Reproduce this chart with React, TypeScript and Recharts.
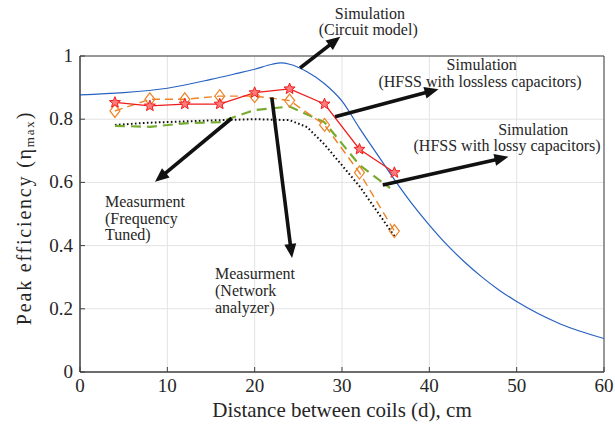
import React from 'react';
import {
  ComposedChart,
  Line,
  XAxis,
  YAxis,
  CartesianGrid,
  ReferenceLine,
  ReferenceDot,
  ReferenceArea,
} from 'recharts';

// ---------- data ----------
const xTicks = [0, 10, 20, 30, 40, 50, 60];
const yTicks = [0, 0.2, 0.4, 0.6, 0.8, 1];

// Simulation (Circuit model) - blue solid
const circuitX = [0, 5, 10, 15, 18, 20, 22, 23, 24, 26, 28, 30, 32, 34, 36, 38, 40, 42, 44, 46, 48, 50, 55, 60];
const circuitY = [0.877, 0.884, 0.898, 0.926, 0.945, 0.958, 0.974, 0.978, 0.974, 0.95, 0.912, 0.857, 0.772, 0.69, 0.609, 0.533, 0.465, 0.403, 0.349, 0.301, 0.259, 0.223, 0.152, 0.106];

// Simulation (HFSS with lossless capacitors) - red stars
const losslessX = [4, 8, 12, 16, 20, 24, 28, 32, 36];
const losslessY = [0.853, 0.842, 0.848, 0.848, 0.884, 0.896, 0.848, 0.705, 0.631];

// Measurment (Network analyzer) - orange diamonds
const networkX = [4, 8, 12, 16, 20, 24, 28, 32, 36];
const networkY = [0.826, 0.863, 0.863, 0.873, 0.873, 0.859, 0.782, 0.631, 0.446];

// Simulation (HFSS with lossy capacitors) - green dashed
const lossyX = [4, 8, 12, 16, 20, 24, 28, 32, 35.5];
const lossyY = [0.779, 0.776, 0.787, 0.791, 0.829, 0.84, 0.79, 0.655, 0.582];

// Measurment (Frequency Tuned) - black dotted
const tunedX = [4, 8, 12, 16, 20, 24, 26, 28, 32, 36];
const tunedY = [0.782, 0.789, 0.793, 0.797, 0.8, 0.797, 0.775, 0.72, 0.588, 0.43];

const toPts = (xs: number[], ys: number[]) => xs.map((x, i) => ({ x, y: ys[i] }));

const circuitData = toPts(circuitX, circuitY);
const losslessData = toPts(losslessX, losslessY);
const networkData = toPts(networkX, networkY);
const lossyData = toPts(lossyX, lossyY);
const tunedData = toPts(tunedX, tunedY);

// annotations (data coordinates)
const textNotes = [
  { x: 33.2, y: 1.136, text: 'Simulation', anchor: 'middle' },
  { x: 33.0, y: 1.085, text: '(Circuit model)', anchor: 'middle' },
  { x: 46.0, y: 0.972, text: 'Simulation', anchor: 'middle' },
  { x: 45.8, y: 0.92, text: '(HFSS with lossless capacitors)', anchor: 'middle' },
  { x: 51.9, y: 0.768, text: 'Simulation', anchor: 'middle' },
  { x: 48.9, y: 0.716, text: '(HFSS with lossy capacitors)', anchor: 'middle' },
  { x: 2.86, y: 0.538, text: 'Measurment', anchor: 'start' },
  { x: 2.86, y: 0.487, text: '(Frequency', anchor: 'start' },
  { x: 2.86, y: 0.434, text: 'Tuned)', anchor: 'start' },
  { x: 15.46, y: 0.313, text: 'Measurment', anchor: 'start' },
  { x: 15.46, y: 0.259, text: '(Network', anchor: 'start' },
  { x: 15.46, y: 0.203, text: 'analyzer)', anchor: 'start' },
];

const arrows = [
  { x1: 25.2, y1: 0.962, x2: 29.8, y2: 1.061 },
  { x1: 29.2, y1: 0.808, x2: 41.05, y2: 0.895 },
  { x1: 34.67, y1: 0.592, x2: 49.06, y2: 0.681 },
  { x1: 17.37, y1: 0.803, x2: 8.59, y2: 0.602 },
  { x1: 21.96, y1: 0.869, x2: 24.28, y2: 0.361 },
];

// ---------- styles ----------
const FONT = '"Liberation Serif", "DejaVu Serif", serif';
const AXIS = '#404040';
const TEXT = '#262626';

const XTickBottom = (props: any) => {
  const { x, y, payload } = props;
  return (
    <g>
      <line x1={x} x2={x} y1={y} y2={y - 5} stroke={AXIS} strokeWidth={1} />
      <text x={x} y={y + 20} textAnchor="middle" fontFamily={FONT} fontSize={19} fill={TEXT}>
        {payload.value}
      </text>
    </g>
  );
};

const XTickTop = (props: any) => {
  const { x, y } = props;
  return <line x1={x} x2={x} y1={y} y2={y + 5} stroke={AXIS} strokeWidth={1} />;
};

const YTickLeft = (props: any) => {
  const { x, y, payload } = props;
  return (
    <g>
      <line x1={x} x2={x + 5} y1={y} y2={y} stroke={AXIS} strokeWidth={1} />
      <text x={x - 7} y={y} dy={6} textAnchor="end" fontFamily={FONT} fontSize={19} fill={TEXT}>
        {payload.value}
      </text>
    </g>
  );
};

const YTickRight = (props: any) => {
  const { x, y } = props;
  return <line x1={x} x2={x - 5} y1={y} y2={y} stroke={AXIS} strokeWidth={1} />;
};

const starPath = (cx: number, cy: number, R: number, r: number) => {
  const pts: string[] = [];
  for (let i = 0; i < 10; i++) {
    const a = -Math.PI / 2 + (i * Math.PI) / 5;
    const rad = i % 2 === 0 ? R : r;
    pts.push(`${cx + rad * Math.cos(a)},${cy + rad * Math.sin(a)}`);
  }
  return `M${pts.join('L')}Z`;
};

const StarDot = (p: any) => (
  <path key={`s${p.index}`} d={starPath(p.cx, p.cy, 5.8, 2.5)} fill="#ff7a7a" stroke="#f01c1c" strokeWidth={1} />
);

const DiamondDot = (p: any) => (
  <path
    key={`d${p.index}`}
    d={`M${p.cx},${p.cy - 6.5}L${p.cx + 5},${p.cy}L${p.cx},${p.cy + 6.5}L${p.cx - 5},${p.cy}Z`}
    fill="none"
    stroke="#ee8427"
    strokeWidth={1.2}
  />
);

const ArrowShape = (props: any) => {
  const { x1, y1, x2, y2 } = props;
  if ([x1, y1, x2, y2].some((v) => typeof v !== 'number' || isNaN(v))) return null;
  const dx = x2 - x1;
  const dy = y2 - y1;
  const len = Math.sqrt(dx * dx + dy * dy);
  const ux = dx / len;
  const uy = dy / len;
  const hl = 14;
  const hw = 6;
  const bx = x2 - ux * hl;
  const by = y2 - uy * hl;
  return (
    <g>
      <line x1={x1} y1={y1} x2={bx + ux * 2} y2={by + uy * 2} stroke="#111" strokeWidth={3.6} />
      <path
        d={`M${x2},${y2}L${bx - uy * hw},${by + ux * hw}L${bx + uy * hw},${by - ux * hw}Z`}
        fill="#111"
      />
    </g>
  );
};

const YLabel = (props: any) => {
  const { viewBox } = props;
  const cx = viewBox.x + 24;
  const cy = viewBox.y + viewBox.height / 2 + 4;
  return (
    <text
      x={cx}
      y={cy}
      transform={`rotate(-90, ${cx}, ${cy})`}
      textAnchor="middle"
      dominantBaseline="central"
      fontFamily={FONT}
      fontSize={20}
      fill={TEXT}
      letterSpacing={1.8}
    >
      Peak efficiency (η
      <tspan fontSize={13} dy={5}>max</tspan>
      <tspan dy={-5}>)</tspan>
    </text>
  );
};

const XLabel = (props: any) => {
  const { viewBox } = props;
  const cx = viewBox.x + viewBox.width / 2;
  return (
    <text x={cx} y={viewBox.y + 45} textAnchor="middle" fontFamily={FONT} fontSize={21} fill={TEXT}>
      Distance between coils (d), cm
    </text>
  );
};

export default function App() {
  return (
    <div style={{ position: 'absolute', left: 0, top: 0, background: '#fff' }}>
      <ComposedChart width={615} height={427} margin={{ top: 56, right: 11, left: 0, bottom: 0 }}>
        <CartesianGrid stroke="#e3e3e3" strokeWidth={1} />
        <XAxis
          type="number"
          dataKey="x"
          domain={[0, 60]}
          ticks={xTicks}
          allowDataOverflow
          height={55}
          stroke={AXIS}
          tickSize={0}
          tickMargin={0}
          tickLine={false}
          tick={<XTickBottom />}
          label={<XLabel />}
        />
        <XAxis
          xAxisId="top"
          orientation="top"
          type="number"
          domain={[0, 60]}
          ticks={xTicks}
          height={0}
          stroke={AXIS}
          tickSize={0}
          tickMargin={0}
          tickLine={false}
          tick={<XTickTop />}
        />
        <YAxis
          type="number"
          domain={[0, 1]}
          ticks={yTicks}
          allowDataOverflow
          width={80}
          stroke={AXIS}
          tickSize={0}
          tickMargin={0}
          tickLine={false}
          tick={<YTickLeft />}
          label={<YLabel />}
        />
        <YAxis
          yAxisId="right"
          orientation="right"
          type="number"
          domain={[0, 1]}
          ticks={yTicks}
          width={0}
          stroke={AXIS}
          tickSize={0}
          tickMargin={0}
          tickLine={false}
          tick={<YTickRight />}
        />

        <Line
          data={circuitData}
          dataKey="y"
          type="monotone"
          stroke="#2762c2"
          strokeWidth={1.2}
          dot={false}
          isAnimationActive={false}
        />
        <Line
          data={tunedData}
          dataKey="y"
          type="linear"
          stroke="#111"
          strokeWidth={2}
          strokeDasharray="1.6 2.4"
          dot={false}
          isAnimationActive={false}
        />
        <Line
          data={lossyData}
          dataKey="y"
          type="linear"
          stroke="#77ac30"
          strokeWidth={2.2}
          strokeDasharray="10 6"
          dot={false}
          isAnimationActive={false}
        />
        <Line
          data={networkData}
          dataKey="y"
          type="linear"
          stroke="#ee8427"
          strokeWidth={1.4}
          strokeDasharray="8 5"
          dot={DiamondDot}
          isAnimationActive={false}
        />
        <Line
          data={losslessData}
          dataKey="y"
          type="linear"
          stroke="#f01c1c"
          strokeWidth={1.2}
          dot={StarDot}
          isAnimationActive={false}
        />

        <ReferenceArea x1={0} x2={60} y1={0} y2={1} fill="none" stroke={AXIS} strokeWidth={1} ifOverflow="visible" />

        {arrows.map((a, i) => (
          <ReferenceLine
            key={`a${i}`}
            segment={[
              { x: a.x1, y: a.y1 },
              { x: a.x2, y: a.y2 },
            ]}
            ifOverflow="visible"
            shape={ArrowShape}
          />
        ))}

        {textNotes.map((t, i) => (
          <ReferenceDot
            key={`t${i}`}
            x={t.x}
            y={t.y}
            r={0}
            ifOverflow="visible"
            shape={(p: any) => (
              <text
                x={p.cx}
                y={p.cy}
                dy={5.5}
                textAnchor={t.anchor as any}
                fontFamily={FONT}
                fontSize={16}
                fill={TEXT}
              >
                {t.text}
              </text>
            )}
          />
        ))}
      </ComposedChart>
    </div>
  );
}
